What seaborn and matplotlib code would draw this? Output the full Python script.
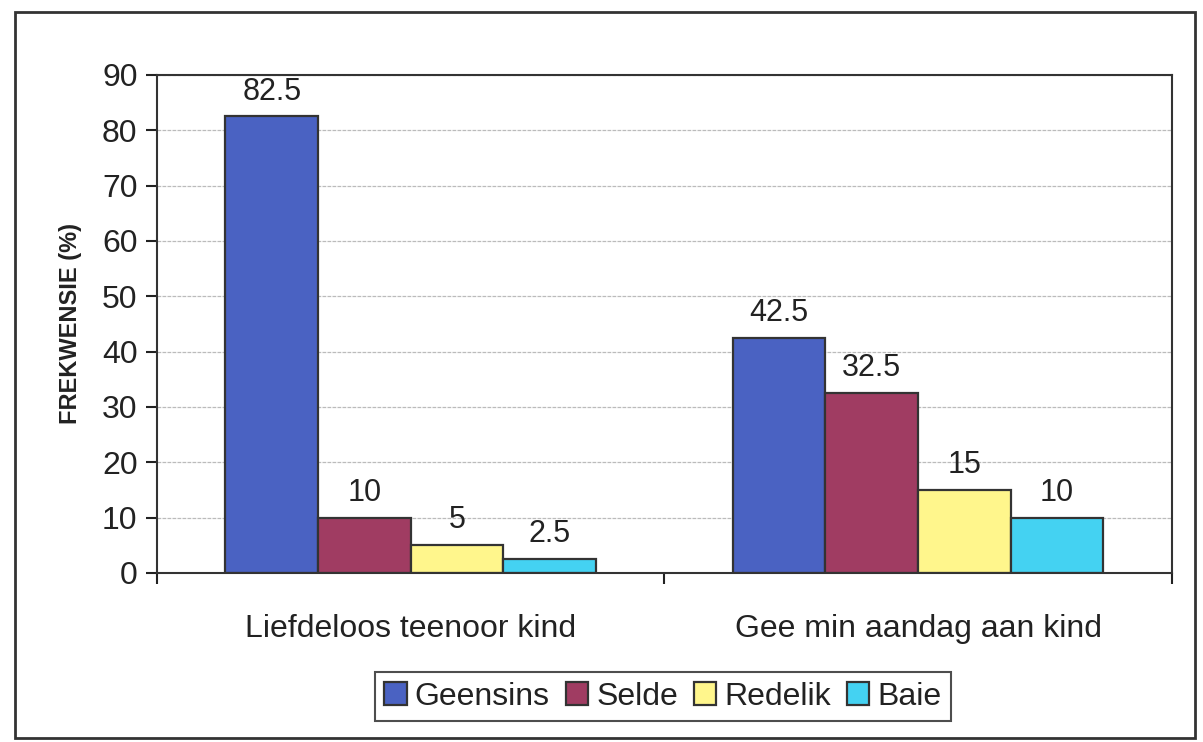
import matplotlib
matplotlib.use("Agg")
import matplotlib.pyplot as plt
import seaborn as sns
import pandas as pd
from matplotlib.patches import Rectangle

categories = ["Liefdeloos teenoor kind", "Gee min aandag aan kind"]
series = ["Geensins", "Selde", "Redelik", "Baie"]
geensins = [82.5, 42.5]
selde = [10, 32.5]
redelik = [5, 15]
baie = [2.5, 10]
colors = ["#4A62C2", "#A03C62", "#FFF68C", "#44D2F2"]

rows = []
for s, vals in zip(series, [geensins, selde, redelik, baie]):
    for c, v in zip(categories, vals):
        rows.append({"cat": c, "series": s, "val": v})
df = pd.DataFrame(rows)

sns.set_theme(style="white")
plt.rcParams["font.family"] = ["Liberation Sans", "DejaVu Sans"]

fig = plt.figure(figsize=(12.03, 7.42), dpi=100)
ax = fig.add_axes([0.1305, 0.228, 0.8435, 0.671])

sns.barplot(data=df, x="cat", y="val", hue="series", order=categories,
            hue_order=series, palette=colors, saturation=1, width=0.73, gap=0,
            edgecolor="#333333", linewidth=1.6, ax=ax, legend=True)

for cont in ax.containers:
    labels = [f"{v:g}" for v in cont.datavalues]
    ax.bar_label(cont, labels=labels, padding=7, fontsize=22, color="#222222")

ax.set_ylim(0, 90)
ax.set_yticks(range(0, 91, 10))
ax.set_xlim(-0.5, 1.5)
ax.set_xlabel("")
ax.set_ylabel("FREKWENSIE (%)", fontsize=17, fontweight="bold", color="#222222", labelpad=14)
ax.tick_params(axis="y", labelsize=23, colors="#222222", length=8, width=1.5, direction="out", left=True, pad=6)
ax.tick_params(axis="x", labelsize=23, colors="#222222", length=0, pad=30)
ax.set_xticks([-0.5, 0.5, 1.5], minor=True)
ax.tick_params(axis="x", which="minor", length=8, width=1.5, color="#222222", bottom=True)

ax.yaxis.grid(True, color="#bbbbbb", linewidth=0.9, linestyle=(0, (3, 1)))
ax.set_axisbelow(True)
for sp in ax.spines.values():
    sp.set_visible(True)
    sp.set_color("#333333")
    sp.set_linewidth(1.5)

leg = ax.get_legend()
leg.remove()
handles, lbls = ax.get_legend_handles_labels()
leg = fig.legend(handles, lbls, loc="center", bbox_to_anchor=(0.551, 0.061), ncol=4,
                 fontsize=23, frameon=True, fancybox=False, edgecolor="#222222",
                 handlelength=0.7, handleheight=0.7, handletextpad=0.25,
                 columnspacing=0.5, borderpad=0.3, borderaxespad=0)
leg.get_frame().set_linewidth(1.5)
for t in leg.get_texts():
    t.set_color("#222222")

fig.patches.append(Rectangle((15 / 1203, 1 - 738 / 742), (1195 - 15) / 1203, (738 - 12) / 742,
                             transform=fig.transFigure, fill=False,
                             edgecolor="#333333", linewidth=2))

fig.savefig("out.png", dpi=100)
